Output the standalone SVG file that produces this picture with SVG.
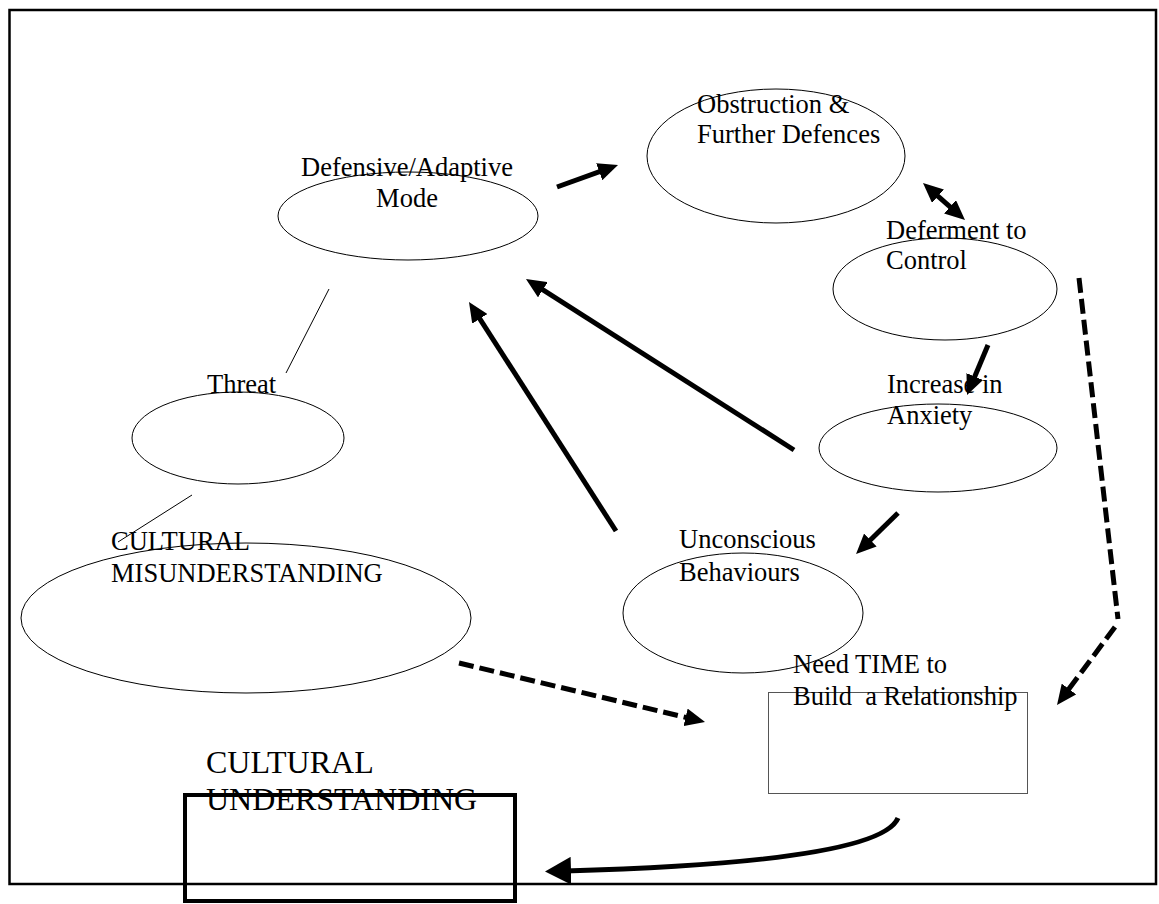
<svg xmlns="http://www.w3.org/2000/svg" width="1159" height="904" viewBox="0 0 1159 904">
<style>
.bg{fill:#fff}
.frame{fill:none;stroke:#000;stroke-width:2.5}
.el{fill:none;stroke:#000;stroke-width:1}
.t{font-family:"Liberation Serif","Times New Roman",serif;font-size:26.5px;fill:#000;white-space:pre}
.big{font-size:32px}
.thin{stroke:#000;stroke-width:1;fill:none}
.arr{stroke:#000;stroke-width:5;fill:none;marker-end:url(#ah)}
.dash{stroke:#000;stroke-width:5;fill:none;stroke-dasharray:15 6}
</style>
<defs>
<marker id="ah" viewBox="0 0 20 18" markerWidth="20" markerHeight="18" refX="10" refY="9" orient="auto-start-reverse" markerUnits="userSpaceOnUse">
<path d="M0,0 L20,9 L0,18 z" fill="#000"/>
</marker>
<marker id="ahc" viewBox="0 0 26 28" markerWidth="26" markerHeight="28" refX="6" refY="14" orient="auto" markerUnits="userSpaceOnUse">
<path d="M0,0 L26,14 L0,28 z" fill="#000"/>
</marker>
</defs>
<rect class="bg" x="0" y="0" width="1159" height="904"/>
<rect class="frame" x="9.5" y="10" width="1146.5" height="874"/>

<g id="connectors">
<line class="thin" x1="329" y1="289" x2="286" y2="373"/>
<line class="thin" x1="192" y1="495" x2="118" y2="542"/>
<line class="arr" x1="557" y1="187" x2="608.6" y2="168.4"/>
<line class="arr" x1="930.5" y1="189.6" x2="957.5" y2="213.4" marker-start="url(#ah)"/>
<line class="arr" x1="988" y1="345" x2="970.9" y2="385.8"/>
<line class="arr" x1="898" y1="513" x2="863.2" y2="547"/>
<line class="arr" x1="794" y1="450" x2="534.4" y2="284.4"/>
<line class="arr" x1="616" y1="531" x2="474.4" y2="310.4"/>
<line class="dash" x1="459" y1="663" x2="695.3" y2="719.7" marker-end="url(#ah)"/>
<line class="dash" x1="1079" y1="278" x2="1118" y2="619"/>
<line class="dash" x1="1115" y1="627" x2="1063" y2="697" marker-end="url(#ah)"/>
<path d="M898,818 Q880,862 565,871" stroke="#000" stroke-width="5" fill="none" marker-end="url(#ahc)"/>
</g>

<g id="node-defensive">
<ellipse class="el" cx="408" cy="216" rx="130" ry="44"/>
<text class="t" x="407" y="176" text-anchor="middle">Defensive/Adaptive</text>
<text class="t" x="407" y="207" text-anchor="middle">Mode</text>
</g>
<g id="node-obstruction">
<ellipse class="el" cx="776" cy="156" rx="129" ry="67"/>
<text class="t" x="697" y="113">Obstruction &amp;</text>
<text class="t" x="697" y="143">Further Defences</text>
</g>
<g id="node-deferment">
<ellipse class="el" cx="945" cy="289" rx="112" ry="51"/>
<text class="t" x="886" y="239">Deferment to</text>
<text class="t" x="886" y="269">Control</text>
</g>
<g id="node-anxiety">
<ellipse class="el" cx="938" cy="448" rx="119" ry="44"/>
<text class="t" x="887" y="393">Increase in</text>
<text class="t" x="887" y="424">Anxiety</text>
</g>
<g id="node-threat">
<ellipse class="el" cx="238" cy="438" rx="106" ry="46"/>
<text class="t" x="207" y="393">Threat</text>
</g>
<g id="node-misunderstanding">
<ellipse class="el" cx="246" cy="618" rx="225" ry="75"/>
<text class="t" x="111" y="550">CULTURAL</text>
<text class="t" x="111" y="582">MISUNDERSTANDING</text>
</g>
<g id="node-unconscious">
<ellipse class="el" cx="743" cy="613" rx="120" ry="60"/>
<text class="t" x="679" y="548">Unconscious</text>
<text class="t" x="679" y="581">Behaviours</text>
</g>
<g id="node-time">
<rect x="768.5" y="692.5" width="259" height="101" fill="none" stroke="#555" stroke-width="1"/>
<text class="t" x="793" y="673">Need TIME to</text>
<text class="t" x="793" y="705">Build  a Relationship</text>
</g>
<g id="node-understanding">
<rect x="185" y="795" width="330" height="106" fill="none" stroke="#000" stroke-width="4"/>
<text class="t big" x="206" y="773">CULTURAL</text>
<text class="t big" x="206" y="810">UNDERSTANDING</text>
</g>
</svg>
